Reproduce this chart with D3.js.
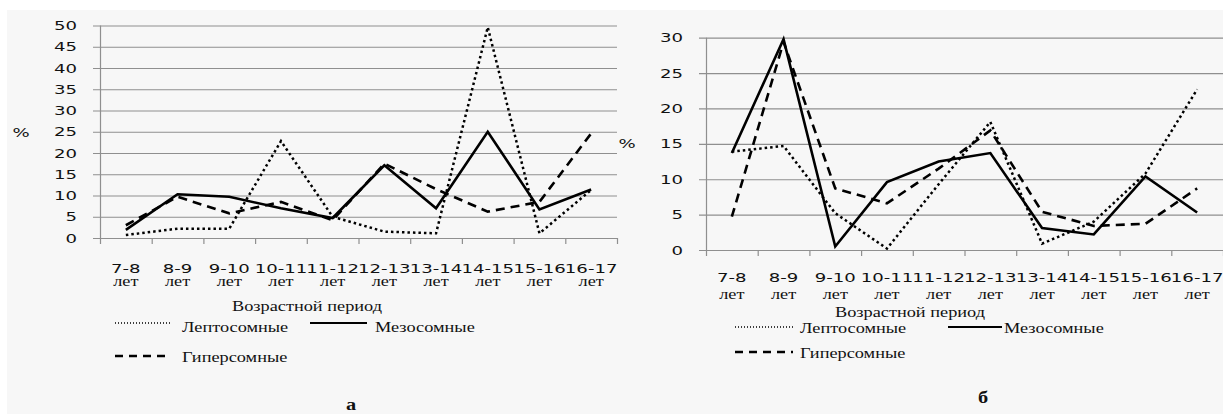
<!DOCTYPE html>
<html>
<head>
<meta charset="utf-8">
<script src="https://cdn.jsdelivr.net/npm/d3@7"></script>
<style>
  body { margin: 0; background: #fff; }
  svg { display: block; }
</style>
</head>
<body>
<div id="canvas"></div>
<script>
// Возрастные периоды
const periods = ["7-8", "8-9", "9-10", "10-11", "11-12", "12-13", "13-14", "14-15", "15-16", "16-17"];
const periodUnit = "лет";

// график а
const leptoA = [0.7, 2.2, 2.2, 22.8, 5.0, 1.5, 1.1, 49.6, 1.1, 11.3];
const mezoA = [1.9, 10.3, 9.7, 7.0, 4.7, 17.1, 7.0, 25.0, 6.7, 11.4];
const hyperA = [3.0, 9.7, 5.8, 8.5, 4.2, 17.5, 11.5, 6.2, 8.5, 24.6];
const ticksA = [0, 5, 10, 15, 20, 25, 30, 35, 40, 45, 50];

// график б
const leptoB = [13.9, 14.7, 5.2, 0.2, 9.3, 18.1, 0.9, 4.0, 10.8, 22.7];
const mezoB = [13.7, 29.8, 0.5, 9.6, 12.5, 13.7, 3.1, 2.2, 10.4, 5.3];
const hyperB = [4.7, 29.4, 8.7, 6.6, 11.5, 16.9, 5.4, 3.4, 3.7, 8.7];
const ticksB = [0, 5, 10, 15, 20, 25, 30];

const seriesNames = ["Лептосомные", "Мезосомные", "Гиперсомные"];

const W = 1223, H = 414;
const SANS = "'DejaVu Sans', Verdana, sans-serif";
const SERIF = "'Liberation Serif', 'Times New Roman', serif";
const sxSans = 1.45, sxSerif = 1.22;

const styles = {
  lepto: { w: 2.5, dash: "2.5,3" },
  mezo: { w: 2.6, dash: null },
  hyper: { w: 2.6, dash: "9,6" }
};

const svg = d3.select("#canvas").append("svg")
  .attr("width", W)
  .attr("height", H);

// фон
svg.append("rect")
  .attr("x", 7).attr("y", 10)
  .attr("width", W - 7).attr("height", H - 10)
  .attr("fill", "#f7f7f7");

// растянутый по горизонтали текст
const txt = (g, x, y, s, font, size, anchor, sx, weight) => {
  g.append("text")
    .attr("transform", `translate(${x},${y}) scale(${sx},1)`)
    .attr("font-family", font)
    .attr("font-size", size)
    .attr("font-weight", weight || "normal")
    .attr("text-anchor", anchor)
    .attr("fill", "#111")
    .text(s);
};

const chart = (cfg) => {
  const g = svg.append("g");
  const x = d3.scaleBand().domain(periods).range([cfg.x0, cfg.x1]).padding(0);
  const y = d3.scaleLinear().domain([0, d3.max(cfg.ticks)]).range([cfg.y0, cfg.yTop]);
  const cx = d => x(d) + x.bandwidth() / 2;

  // сетка
  g.selectAll(".grid").data(cfg.ticks).enter().append("line")
    .attr("x1", cfg.x0 - 7).attr("x2", cfg.x1)
    .attr("y1", d => y(d) + 0.5).attr("y2", d => y(d) + 0.5)
    .attr("stroke", "#8f8f8f").attr("stroke-width", 1.2);

  // ось Y
  g.append("line")
    .attr("x1", cfg.x0 + 0.5).attr("x2", cfg.x0 + 0.5)
    .attr("y1", cfg.yTop).attr("y2", cfg.y0 + 0.5)
    .attr("stroke", "#8f8f8f").attr("stroke-width", 1.2);

  // деления X
  const bounds = periods.map(d => x(d)).concat([cfg.x1]);
  g.selectAll(".xt").data(bounds).enter().append("line")
    .attr("x1", d => d + 0.5).attr("x2", d => d + 0.5)
    .attr("y1", cfg.y0).attr("y2", cfg.y0 + 6)
    .attr("stroke", "#8f8f8f").attr("stroke-width", 1.2);

  // подписи Y
  cfg.ticks.forEach(t => txt(g, cfg.x0 - 23, y(t) + 4.5, t, SANS, 12.5, "end", sxSans));
  txt(g, cfg.pctX, cfg.pctY, "%", SANS, 12.5, "middle", sxSans);

  // подписи X
  periods.forEach(p => {
    txt(g, cx(p), cfg.lab1, p, SANS, 12.5, "middle", sxSans);
    txt(g, cx(p), cfg.lab2, periodUnit, SERIF, 15, "middle", sxSerif);
  });
  txt(g, cfg.titleX, cfg.titleY, "Возрастной период", SERIF, 15, "middle", sxSerif);

  // линии
  const line = d3.line().x((d, i) => cx(periods[i])).y(d => y(d));
  const data = [[cfg.lepto, styles.lepto], [cfg.mezo, styles.mezo], [cfg.hyper, styles.hyper]];
  data.forEach(([vals, st]) => {
    g.append("path")
      .datum(vals)
      .attr("d", line)
      .attr("fill", "none")
      .attr("stroke", "#000")
      .attr("stroke-width", st.w)
      .attr("stroke-linejoin", "miter")
      .attr("stroke-dasharray", st.dash);
  });

  // легенда
  const L = cfg.legend;
  const leg = [
    { x1: L.c1a, x2: L.c1b, y: L.r1, dash: "1,2", w: 1.3, tx: L.t1, ty: L.r1t, name: seriesNames[0] },
    { x1: L.c2a, x2: L.c2b, y: L.r1, dash: null, w: 2.2, tx: L.t2, ty: L.r1t, name: seriesNames[1] },
    { x1: L.c1a, x2: L.c1b, y: L.r2, dash: "8,6", w: 2.4, tx: L.t1, ty: L.r2t, name: seriesNames[2] }
  ];
  leg.forEach(l => {
    g.append("line")
      .attr("x1", l.x1).attr("x2", l.x2)
      .attr("y1", l.y).attr("y2", l.y)
      .attr("stroke", "#000")
      .attr("stroke-width", l.w)
      .attr("stroke-dasharray", l.dash);
    txt(g, l.tx, l.ty, l.name, SERIF, 15, "start", sxSerif);
  });

  txt(g, cfg.letterX, cfg.letterY, cfg.letter, SERIF, 17, "middle", 1.2, "bold");
};

chart({
  x0: 100, x1: 617, y0: 238, yTop: 25.5, ticks: ticksA,
  lepto: leptoA, mezo: mezoA, hyper: hyperA,
  pctX: 21, pctY: 137,
  lab1: 273, lab2: 286, titleX: 307, titleY: 311,
  legend: { c1a: 115, c1b: 170, c2a: 310, c2b: 367, t1: 182, t2: 375, r1: 323, r1t: 332, r2: 356, r2t: 362 },
  letter: "а", letterX: 351, letterY: 410
});

chart({
  x0: 706, x1: 1223, y0: 250, yTop: 37.7, ticks: ticksB,
  lepto: leptoB, mezo: mezoB, hyper: hyperB,
  pctX: 627, pctY: 148,
  lab1: 282, lab2: 299, titleX: 910, titleY: 317,
  legend: { c1a: 735, c1b: 793, c2a: 948, c2b: 1002, t1: 800, t2: 1004, r1: 327, r1t: 333, r2: 352, r2t: 358 },
  letter: "б", letterX: 983, letterY: 403
});
</script>
</body>
</html>
